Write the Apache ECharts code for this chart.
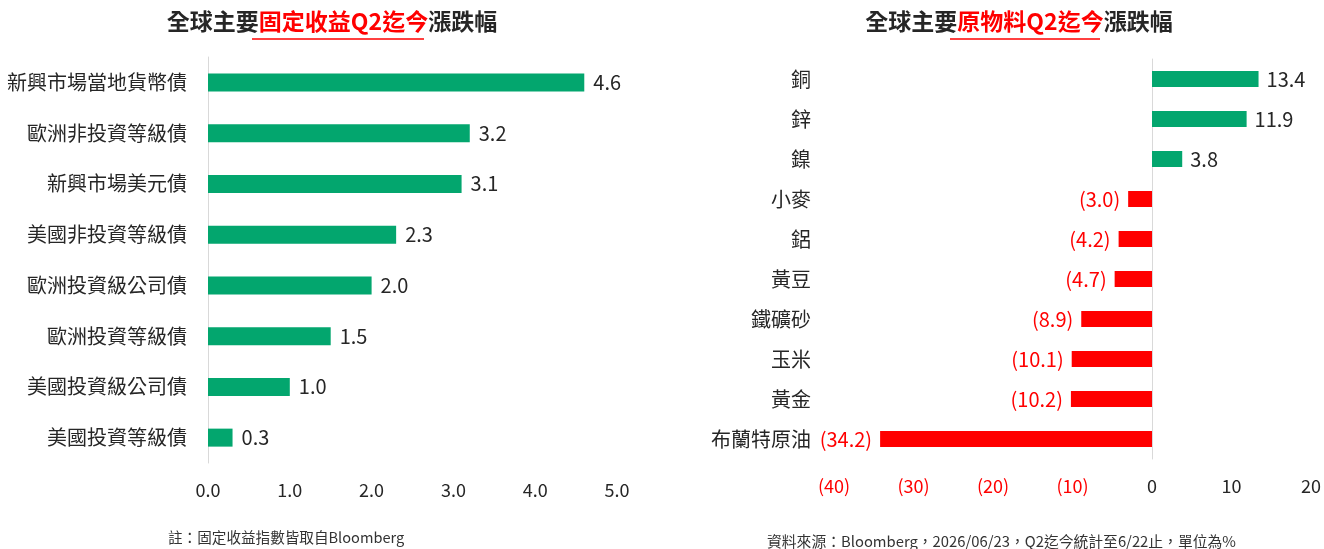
<!DOCTYPE html>
<html>
<head>
<meta charset="utf-8">
<script src="https://cdn.jsdelivr.net/npm/echarts@6/dist/echarts.min.js"></script>
<style>
html,body{margin:0;padding:0;background:#fff;}
#c{width:1324px;height:549px;}
</style>
</head>
<body>
<div id="c"></div>
<script>
const fiCategories = ['新興市場當地貨幣債','歐洲非投資等級債','新興市場美元債','美國非投資等級債','歐洲投資級公司債','歐洲投資等級債','美國投資級公司債','美國投資等級債'];
const fiValues = [4.6, 3.2, 3.1, 2.3, 2.0, 1.5, 1.0, 0.3];
const cmCategories = ['銅','鋅','鎳','小麥','鋁','黃豆','鐵礦砂','玉米','黃金','布蘭特原油'];
const cmValues = [13.4, 11.9, 3.8, -3.0, -4.2, -4.7, -8.9, -10.1, -10.2, -34.2];
const fiTicks = [0, 1, 2, 3, 4, 5];
const cmTicks = [-40, -30, -20, -10, 0, 10, 20];

const FONT = '"Noto Sans CJK TC", "Noto Sans", sans-serif';
const GREEN = '#03A66E';
const RED = '#FF0000';
const DARK = '#262626';

const fmtNeg = v => v < 0 ? '(' + Math.abs(v).toFixed(1) + ')' : v.toFixed(1);
const fmtTick = v => v < 0 ? '(' + Math.abs(v) + ')' : String(v);

const chart = echarts.init(document.getElementById('c'));
chart.setOption({
  backgroundColor: '#fff',
  animation: false,
  textStyle: { fontFamily: FONT },
  title: [
    {
      text: '{a|全球主要}{b|固定收益Q2迄今}{a|漲跌幅}',
      left: 327, top: 5, textAlign: 'center',
      textStyle: { rich: {
        a: { fontSize: 23, fontWeight: 'bold', color: DARK, fontFamily: FONT },
        b: { fontSize: 23, fontWeight: 'bold', color: RED, fontFamily: FONT }
      } }
    },
    {
      text: '{a|全球主要}{b|原物料Q2迄今}{a|漲跌幅}',
      left: 1014, top: 5, textAlign: 'center',
      textStyle: { rich: {
        a: { fontSize: 23, fontWeight: 'bold', color: DARK, fontFamily: FONT },
        b: { fontSize: 23, fontWeight: 'bold', color: RED, fontFamily: FONT }
      } }
    },
    {
      text: '註：固定收益指數皆取自Bloomberg',
      left: 163, top: 525,
      textStyle: { fontSize: 14.6, fontWeight: 'normal', color: '#333', fontFamily: FONT }
    },
    {
      text: '資料來源：Bloomberg，2026/06/23，Q2迄今統計至6/22止，單位為%',
      left: 762, top: 529,
      textStyle: { fontSize: 14.8, fontWeight: 'normal', color: '#333', fontFamily: FONT }
    }
  ],
  graphic: [
    { type: 'line', shape: { x1: 252, y1: 39, x2: 424, y2: 39 }, style: { stroke: RED, lineWidth: 1.5 } },
    { type: 'line', shape: { x1: 950, y1: 39, x2: 1100, y2: 39 }, style: { stroke: RED, lineWidth: 1.5 } }
  ],
  grid: [
    { left: 208, width: 409, top: 57, height: 406 },
    { left: 834, width: 480, top: 59, height: 400 }
  ],
  xAxis: [
    {
      gridIndex: 0, type: 'value', min: fiTicks[0], max: fiTicks[fiTicks.length - 1], interval: 1,
      axisLine: { show: false }, axisTick: { show: false }, splitLine: { show: false },
      axisLabel: { margin: 18, fontSize: 18, color: DARK, fontFamily: FONT, formatter: v => v.toFixed(1) }
    },
    {
      gridIndex: 1, type: 'value', min: cmTicks[0], max: cmTicks[cmTicks.length - 1], interval: 10,
      axisLine: { show: false }, axisTick: { show: false }, splitLine: { show: false },
      axisLabel: { margin: 18, fontSize: 18, fontFamily: FONT, formatter: fmtTick,
        color: v => (v < 0 ? RED : DARK), hideOverlap: false, showMaxLabel: true, showMinLabel: true }
    }
  ],
  yAxis: [
    {
      gridIndex: 0, type: 'category', data: fiCategories, inverse: true,
      axisLine: { show: true, lineStyle: { color: '#d9d9d9', width: 1 } },
      axisTick: { show: false },
      axisLabel: { margin: 21, fontSize: 20, color: DARK, fontFamily: FONT }
    },
    {
      gridIndex: 1, type: 'category', data: cmCategories, inverse: true,
      axisLine: { show: true, onZero: true, lineStyle: { color: '#d9d9d9', width: 1 } },
      axisTick: { show: false },
      position: 'left',
      axisLabel: { margin: 23, fontSize: 20, color: DARK, fontFamily: FONT }
    }
  ],
  series: [
    {
      type: 'bar', xAxisIndex: 0, yAxisIndex: 0, data: fiValues, barWidth: 18,
      itemStyle: { color: GREEN },
      label: { show: true, position: 'right', distance: 9, fontSize: 20, color: DARK, fontFamily: FONT,
        formatter: p => p.value.toFixed(1) }
    },
    {
      type: 'bar', xAxisIndex: 1, yAxisIndex: 1, barWidth: 16,
      data: cmValues.map(v => ({
        value: v,
        itemStyle: { color: v < 0 ? RED : GREEN },
        label: { position: v < 0 ? 'left' : 'right', color: v < 0 ? RED : DARK }
      })),
      label: { show: true, distance: 8, fontSize: 20, fontFamily: FONT,
        formatter: p => fmtNeg(p.value) }
    }
  ]
});
</script>
</body>
</html>
